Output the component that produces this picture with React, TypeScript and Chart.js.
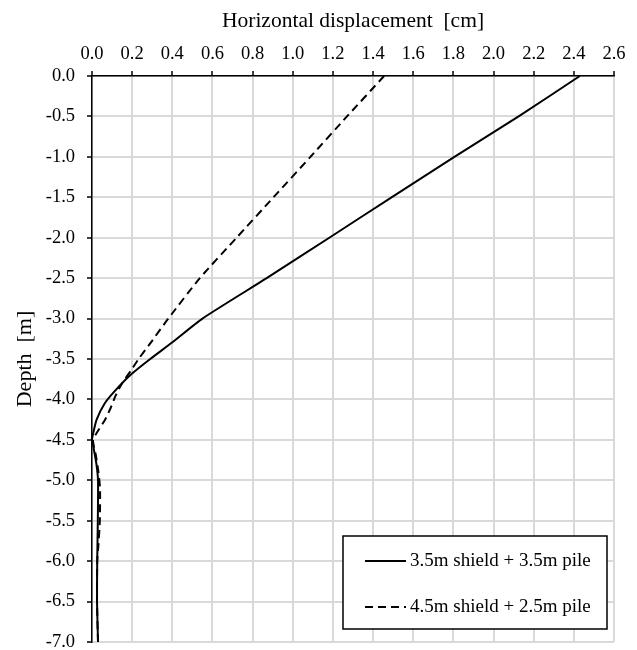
import React, { useEffect, useRef } from "react";
import { Chart, registerables } from "chart.js";

Chart.register(...registerables);

const xTickValues = [0, 0.2, 0.4, 0.6, 0.8, 1.0, 1.2, 1.4, 1.6, 1.8, 2.0, 2.2, 2.4, 2.6];
const yTickValues = [0, -0.5, -1, -1.5, -2, -2.5, -3, -3.5, -4, -4.5, -5, -5.5, -6, -6.5, -7];

const seriesLabels = ["3.5m shield + 3.5m pile", "4.5m shield + 2.5m pile"];

const solidDepth = [0, -0.5, -1, -1.5, -2, -2.5, -3, -3.3, -3.5, -3.7, -3.9, -4.05, -4.25, -4.45, -4.5, -4.6, -4.8, -5, -5.5, -6, -6.5, -7];
const solidDisp = [2.43, 2.125, 1.805, 1.492, 1.182, 0.87, 0.55, 0.397, 0.29, 0.19, 0.112, 0.063, 0.023, 0.003, 0.0, 0.008, 0.022, 0.03, 0.029, 0.026, 0.025, 0.03];

const dashDepth = [0, -0.5, -1, -1.5, -2, -2.5, -3, -3.3, -3.5, -3.65, -3.8, -3.95, -4.1, -4.25, -4.4, -4.5, -4.7, -4.9, -5.1, -5.5, -5.8, -6, -6.5, -7];
const dashDisp = [1.455, 1.27, 1.088, 0.904, 0.72, 0.537, 0.38, 0.292, 0.232, 0.192, 0.15, 0.118, 0.094, 0.065, 0.027, 0.005, 0.02, 0.032, 0.04, 0.039, 0.032, 0.026, 0.025, 0.03];

const FONT = "'Liberation Serif', 'Times New Roman', serif";

const boxLegend = {
  id: "boxLegend",
  afterDraw(chart: any) {
    const { ctx, chartArea } = chart;
    const w = 264;
    const h = 93;
    const x1 = chartArea.right - 7 - w;
    const y1 = chartArea.bottom - 13 - h;
    ctx.save();
    ctx.fillStyle = "#ffffff";
    ctx.fillRect(x1, y1, w, h);
    ctx.strokeStyle = "#000000";
    ctx.lineWidth = 1.5;
    ctx.strokeRect(x1, y1, w, h);
    const rows = [y1 + 25, y1 + 71];
    chart.data.datasets.forEach((ds: any, i: number) => {
      const y = rows[i];
      ctx.beginPath();
      ctx.strokeStyle = ds.borderColor;
      ctx.lineWidth = ds.borderWidth;
      ctx.setLineDash(ds.borderDash || []);
      ctx.moveTo(x1 + 22, y);
      ctx.lineTo(x1 + 63, y);
      ctx.stroke();
      ctx.setLineDash([]);
      ctx.fillStyle = "#000000";
      ctx.font = `19px ${FONT}`;
      ctx.textBaseline = "middle";
      ctx.textAlign = "left";
      ctx.fillText(ds.label, x1 + 67, y);
    });
    ctx.restore();
  },
};

export default function App() {
  const ref = useRef<HTMLCanvasElement | null>(null);
  useEffect(() => {
    if (!ref.current) return;
    const solid = solidDepth.map((d, i) => ({ x: solidDisp[i], y: d }));
    const dashed = dashDepth.map((d, i) => ({ x: dashDisp[i], y: d }));
    const chart = new Chart(ref.current, {
      type: "scatter",
      data: {
        datasets: [
          {
            label: seriesLabels[0],
            data: solid,
            showLine: true,
            borderColor: "#000000",
            backgroundColor: "#000000",
            borderWidth: 2,
            pointRadius: 0,
            tension: 0.2,
          },
          {
            label: seriesLabels[1],
            data: dashed,
            showLine: true,
            borderColor: "#000000",
            backgroundColor: "#000000",
            borderWidth: 2,
            borderDash: [8, 5],
            pointRadius: 0,
            tension: 0.2,
          },
        ],
      },
      options: {
        responsive: false,
        animation: false,
        devicePixelRatio: 1,
        layout: { padding: { left: 0, top: 0, right: 23, bottom: 8 } },
        plugins: {
          legend: { display: false },
          tooltip: { enabled: false },
        },
        scales: {
          x: {
            type: "linear",
            position: "top",
            min: 0,
            max: 2.6,
            afterBuildTicks: (scale: any) => {
              scale.ticks = xTickValues.map((v) => ({ value: v }));
            },
            afterFit: (scale: any) => {
              scale.height = 76;
              scale.paddingLeft = 0;
              scale.paddingRight = 0;
            },
            ticks: {
              color: "#000000",
              font: { family: FONT, size: 18.5 },
              padding: 6,
              maxRotation: 0,
              autoSkip: false,
              callback: (v: any) => Number(v).toFixed(1),
            },
            grid: {
              color: "#d9d9d9",
              lineWidth: 2,
              drawTicks: true,
              tickLength: 5,
              tickColor: "#000000",
              tickWidth: 1.5,
            },
            border: { display: true, color: "#000000", width: 1.5 },
            title: {
              display: true,
              text: "Horizontal displacement  [cm]",
              color: "#000000",
              font: { family: FONT, size: 21.5 },
              padding: { top: 8, bottom: 0 },
            },
          },
          y: {
            type: "linear",
            position: "left",
            min: -7,
            max: 0,
            afterBuildTicks: (scale: any) => {
              scale.ticks = yTickValues.map((v) => ({ value: v }));
            },
            afterFit: (scale: any) => {
              scale.width = 92;
              scale.paddingTop = 0;
              scale.paddingBottom = 0;
            },
            ticks: {
              color: "#000000",
              font: { family: FONT, size: 18.5 },
              padding: 12,
              autoSkip: false,
              callback: (v: any) => Number(v).toFixed(1),
            },
            grid: {
              color: "#d9d9d9",
              lineWidth: 2,
              drawTicks: true,
              tickLength: 5,
              tickColor: "#000000",
              tickWidth: 1.5,
            },
            border: { display: true, color: "#000000", width: 1.5 },
            title: {
              display: true,
              text: "Depth  [m]",
              color: "#000000",
              font: { family: FONT, size: 22 },
              padding: { top: 12, bottom: 0 },
            },
          },
        },
      },
      plugins: [boxLegend],
    } as any);
    return () => chart.destroy();
  }, []);
  return (
    <div style={{ position: "fixed", left: 0, top: 0, width: 637, height: 650, background: "#ffffff" }}>
      <canvas ref={ref} width={637} height={650} style={{ display: "block", width: 637, height: 650 }} />
    </div>
  );
}
